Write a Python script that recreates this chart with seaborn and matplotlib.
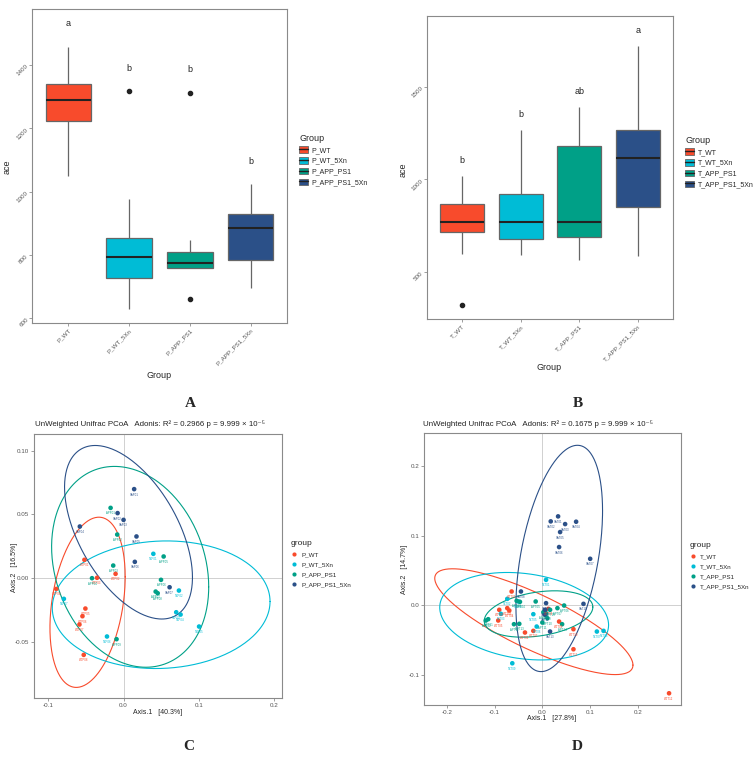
import pandas as pd
import seaborn as sns
import matplotlib.pyplot as plt
import numpy as np
from matplotlib.patches import Patch
from matplotlib.lines import Line2D

# ---------------- data ----------------
groups_p = ["P_WT", "P_WT_5Xn", "P_APP_PS1", "P_APP_PS1_5Xn"]
groups_t = ["T_WT", "T_WT_5Xn", "T_APP_PS1", "T_APP_PS1_5Xn"]

# ace values per group (9 samples each, chosen to reproduce the drawn boxes)
ace_p_wt = [1049, 1150, 1223, 1260, 1289, 1310, 1340, 1400, 1458]
ace_p_wt5 = [628, 690, 728, 760, 794, 820, 852, 977, 1319]
ace_p_app = [661, 758, 758, 765, 775, 790, 810, 847, 1313]
ace_p_app5 = [694, 740, 784, 850, 886, 905, 928, 980, 1024]

ace_t_wt = [321, 597, 714, 740, 773, 820, 867, 950, 1016]
ace_t_wt5 = [595, 640, 677, 720, 773, 850, 923, 1100, 1267]
ace_t_app = [568, 640, 687, 730, 769, 1000, 1183, 1300, 1391]
ace_t_app5 = [586, 720, 853, 1000, 1118, 1200, 1269, 1500, 1722]

letters_p = ["a", "b", "b", "b"]
letters_p_y = [1530, 1388, 1385, 1095]
letters_t = ["b", "b", "ab", "a"]
letters_t_y = [1100, 1353, 1473, 1806]

# PCoA coordinates, panel C
c_wt_x = [-0.052, -0.0106, -0.0352, -0.0894, -0.0507, -0.0546, -0.0586, -0.0529]
c_wt_y = [0.0144, 0.0034, 0.0003, -0.0084, -0.0238, -0.0298, -0.0363, -0.0601]
c_wt5_x = [0.0396, 0.0736, 0.0700, 0.0758, 0.1004, -0.0220, -0.0793]
c_wt5_y = [0.0191, -0.0097, -0.0267, -0.0285, -0.0379, -0.0457, -0.0162]
c_app_x = [-0.0172, -0.0084, -0.0137, -0.0419, 0.0533, 0.0498, 0.0427, 0.0454, -0.0093]
c_app_y = [0.0551, 0.0342, 0.0099, 0.0, 0.0170, -0.0013, -0.0105, -0.0118, -0.0478]
c_app5_x = [0.0141, -0.0079, 0.0, -0.0581, 0.0172, 0.0150, 0.0612]
c_app5_y = [0.0698, 0.0510, 0.0457, 0.0405, 0.0327, 0.0128, -0.0071]

# PCoA coordinates, panel D
d_wt_x = [-0.0643, -0.0902, -0.0734, -0.0692, -0.0923, -0.0364, -0.0189, 0.0126,
          0.0350, 0.0650, 0.0650, 0.2650]
d_wt_y = [0.0197, -0.0067, -0.0043, -0.0077, -0.0221, -0.0394, -0.0370, -0.0053,
          -0.0236, -0.0346, -0.0635, -0.1269]
d_wt5_x = [0.0077, -0.0734, -0.0867, -0.0503, -0.0189, -0.0119, 0.1140, 0.1280, -0.0629]
d_wt5_y = [0.0365, 0.0091, -0.0125, 0.0053, -0.0130, -0.0308, -0.0380, -0.0370, -0.0837]
d_app_x = [-0.1133, -0.1182, -0.0538, -0.0469, -0.0140, 0.0455, 0.0315, 0.0021,
           0.0077, 0.0105, 0.0, -0.0594, -0.0483, 0.0413, 0.0161]
d_app_y = [-0.0202, -0.0221, 0.0063, 0.0048, 0.0053, -0.0005, -0.0043, -0.0101,
           -0.0115, -0.0188, -0.0250, -0.0274, -0.0269, -0.0274, -0.0067]
d_app5_x = [0.0329, 0.0175, 0.0476, 0.0706, 0.0371, 0.0350, 0.1000, -0.0448,
            0.0077, 0.0860, 0.0056, 0.0056, 0.0161]
d_app5_y = [0.1279, 0.1207, 0.1168, 0.1202, 0.1053, 0.0837, 0.0668, 0.0197,
            0.0029, 0.0019, -0.0067, -0.0139, -0.0380]

# confidence ellipses: centre, x/y half-extent, tilt (cos of phase)
ell_c_cx = [-0.0478, 0.050, 0.0088, 0.0066]
ell_c_cy = [-0.0189, -0.0208, 0.0089, 0.036]
ell_c_rx = [0.050, 0.1447, 0.1044, 0.085]
ell_c_ry = [0.0667, 0.050, 0.0787, 0.068]
ell_c_tilt = [0.3, 0.05, -0.2, -0.52]

ell_d_cx = [-0.0178, -0.0381, -0.008, 0.0353]
ell_d_cy = [-0.0238, -0.0159, -0.0127, 0.0673]
ell_d_rx = [0.2073, 0.1766, 0.1136, 0.0906]
ell_d_ry = [0.0762, 0.063, 0.0334, 0.163]
ell_d_tilt = [-0.82, -0.2, 0.3, 0.42]

colors = ["#F84B2C", "#00BCD6", "#00A087", "#2B5088"]

# ---------------- style ----------------
sns.set_style("white")
plt.rcParams['font.family'] = ['Liberation Sans', 'DejaVu Sans']

W, H = 754, 759
fig = plt.figure(figsize=(W / 100, H / 100), dpi=100)


def add_ax(l, t, r, b):
    return fig.add_axes([l / W, 1 - b / H, (r - l) / W, (b - t) / H])


def style_frame(ax):
    for s in ax.spines.values():
        s.set_color("#8a8a8a")
        s.set_linewidth(0.8)
    ax.tick_params(axis="both", length=2, width=0.5, color="#777777",
                   labelcolor="#555555", labelsize=4.5, direction="out",
                   bottom=True, left=True, pad=1.5)


# ---------------- box plots ----------------
def draw_box(ax, groups, values, letters, letters_y, ylim, yticks):
    df = pd.DataFrame({"Group": np.repeat(groups, [len(v) for v in values]),
                       "ace": np.concatenate(values)})
    sns.boxplot(data=df, x="Group", y="ace", hue="Group", palette=colors,
                saturation=1, width=0.75, linecolor="#666666", linewidth=0.9,
                fliersize=3,
                flierprops={"marker": "o", "markerfacecolor": "#222222",
                            "markeredgecolor": "#222222"},
                medianprops={"color": "#222222", "linewidth": 1.5},
                showcaps=False, legend=False, ax=ax)
    for i, (lt, ly) in enumerate(zip(letters, letters_y)):
        ax.text(i, ly, lt, ha="center", va="center", fontsize=6.5, color="#222222")
    ax.set_ylim(ylim)
    ax.set_xlim(-0.6, 3.6)
    ax.set_yticks(yticks)
    ax.set_yticklabels([str(v) for v in yticks], rotation=45, ha="right",
                       rotation_mode="anchor")
    ax.set_xticks(range(4))
    ax.set_xticklabels(groups, rotation=45, ha="right", rotation_mode="anchor")
    ax.set_xlabel("")
    ax.set_ylabel("")
    style_frame(ax)


ax_a = add_ax(32, 9, 287, 323)
draw_box(ax_a, groups_p, [ace_p_wt, ace_p_wt5, ace_p_app, ace_p_app5],
         letters_p, letters_p_y, (585, 1577), [600, 800, 1000, 1200, 1400])
ax_b = add_ax(427, 16, 673, 319)
draw_box(ax_b, groups_t, [ace_t_wt, ace_t_wt5, ace_t_app, ace_t_app5],
         letters_t, letters_t_y, (247, 1882), [500, 1000, 1500])

fig.text(159 / W, 1 - 375 / H, "Group", ha="center", va="center", fontsize=6.5)
fig.text(549 / W, 1 - 368 / H, "Group", ha="center", va="center", fontsize=6.5)
fig.text(7 / W, 1 - 167 / H, "ace", ha="center", va="center", fontsize=6.5, rotation=90)
fig.text(403 / W, 1 - 170 / H, "ace", ha="center", va="center", fontsize=6.5, rotation=90)


def box_legend(groups, x, y):
    handles = [(Patch(facecolor=c, edgecolor="#666666", linewidth=0.6),
                Line2D([], [], color="#222222", linewidth=1.0)) for c in colors]
    fig.legend(handles, groups, title="Group", loc="upper left",
               bbox_to_anchor=(x / W, 1 - y / H), frameon=False, fontsize=5,
               title_fontsize=6.5, handlelength=1.3, handleheight=1.1,
               handletextpad=0.5, labelspacing=0.45, borderpad=0, borderaxespad=0,
               alignment="left")


box_legend(groups_p, 299, 134)
box_legend(groups_t, 685, 136)

# ---------------- PCoA plots ----------------
def draw_pcoa(ax, xs, ys, tags, ell, xlim, ylim, xticks, yticks, xlabels, ylabels):
    rows = []
    for gi, (gx, gy) in enumerate(zip(xs, ys)):
        for j, (px, py) in enumerate(zip(gx, gy)):
            rows.append((px, py, gi, f"{tags[gi]}{j + 1:02d}"))
    df = pd.DataFrame(rows, columns=["x", "y", "g", "lab"])
    ax.axhline(0, color="#d0d0d0", linewidth=0.7, zorder=0)
    ax.axvline(0, color="#d0d0d0", linewidth=0.7, zorder=0)
    sns.scatterplot(data=df, x="x", y="y", hue="g", palette=colors, s=11,
                    linewidth=0, legend=False, ax=ax, zorder=3)
    for _, r in df.iterrows():
        ax.annotate(r["lab"], (r["x"], r["y"]), xytext=(0, -2.5),
                    textcoords="offset points", ha="center", va="top",
                    fontsize=2.0, color=colors[int(r["g"])])
    t = np.linspace(0, 2 * np.pi, 300)
    for gi in range(4):
        cx, cy, rx, ry, tl = [e[gi] for e in ell]
        ph = np.arccos(tl)
        ax.plot(cx + rx * np.cos(t), cy + ry * np.cos(t - ph),
                color=colors[gi], linewidth=0.8, zorder=2)
    ax.set_xlim(xlim)
    ax.set_ylim(ylim)
    ax.set_xticks(xticks)
    ax.set_xticklabels(xlabels)
    ax.set_yticks(yticks)
    ax.set_yticklabels(ylabels)
    ax.set_xlabel("")
    ax.set_ylabel("")
    style_frame(ax)


ax_c = add_ax(34, 434, 282, 698)
draw_pcoa(ax_c, [c_wt_x, c_wt5_x, c_app_x, c_app5_x],
          [c_wt_y, c_wt5_y, c_app_y, c_app5_y], ["WTP", "5XP", "APP", "SAP"],
          [ell_c_cx, ell_c_cy, ell_c_rx, ell_c_ry, ell_c_tilt],
          (-0.119, 0.2106), (-0.0939, 0.113), [-0.1, 0.0, 0.1, 0.2],
          [-0.05, 0.0, 0.05, 0.10], ["-0.1", "0.0", "0.1", "0.2"],
          ["-0.05", "0.00", "0.05", "0.10"])
ax_d = add_ax(424, 433, 681, 705)
draw_pcoa(ax_d, [d_wt_x, d_wt5_x, d_app_x, d_app5_x],
          [d_wt_y, d_wt5_y, d_app_y, d_app5_y], ["WTT", "5XT", "APT", "SAT"],
          [ell_d_cx, ell_d_cy, ell_d_rx, ell_d_ry, ell_d_tilt],
          (-0.2476, 0.290), (-0.1438, 0.248), [-0.2, -0.1, 0.0, 0.1, 0.2],
          [-0.1, 0.0, 0.1, 0.2], ["-0.2", "-0.1", "0.0", "0.1", "0.2"],
          ["-0.1", "0.0", "0.1", "0.2"])

fig.text(35 / W, 1 - 424 / H,
         "UnWeighted Unifrac PCoA   Adonis: R² = 0.2966 p = 9.999 × 10⁻⁵",
         ha="left", va="center", fontsize=5.7, color="#222222")
fig.text(423 / W, 1 - 424 / H,
         "UnWeighted Unifrac PCoA   Adonis: R² = 0.1675 p = 9.999 × 10⁻⁵",
         ha="left", va="center", fontsize=5.7, color="#222222")
fig.text(158 / W, 1 - 712 / H, "Axis.1   [40.3%]", ha="center", va="center", fontsize=5)
fig.text(552 / W, 1 - 719 / H, "Axis.1   [27.8%]", ha="center", va="center", fontsize=5)
fig.text(14 / W, 1 - 567 / H, "Axis.2   [16.5%]", ha="center", va="center",
         fontsize=5, rotation=90)
fig.text(405 / W, 1 - 569 / H, "Axis.2   [14.7%]", ha="center", va="center",
         fontsize=5, rotation=90)


def scatter_legend(groups, x, y):
    handles = [Line2D([], [], marker="o", linestyle="none", markersize=3,
                      markerfacecolor=c, markeredgewidth=0) for c in colors]
    fig.legend(handles, groups, title="group", loc="upper left",
               bbox_to_anchor=(x / W, 1 - y / H), frameon=False, fontsize=4.5,
               title_fontsize=6, handlelength=1.0, handletextpad=0.6,
               labelspacing=0.75, borderpad=0, borderaxespad=0, alignment="left")


scatter_legend(groups_p, 291, 540)
scatter_legend(groups_t, 690, 542)

# panel letters
for lx, ly, lt in [(190, 404, "A"), (578, 404, "B"), (189, 747, "C"), (577, 747, "D")]:
    fig.text(lx / W, 1 - ly / H, lt, ha="center", va="center", fontsize=11,
             fontweight="bold", family="Liberation Serif")

fig.savefig("out.png", dpi=100)
